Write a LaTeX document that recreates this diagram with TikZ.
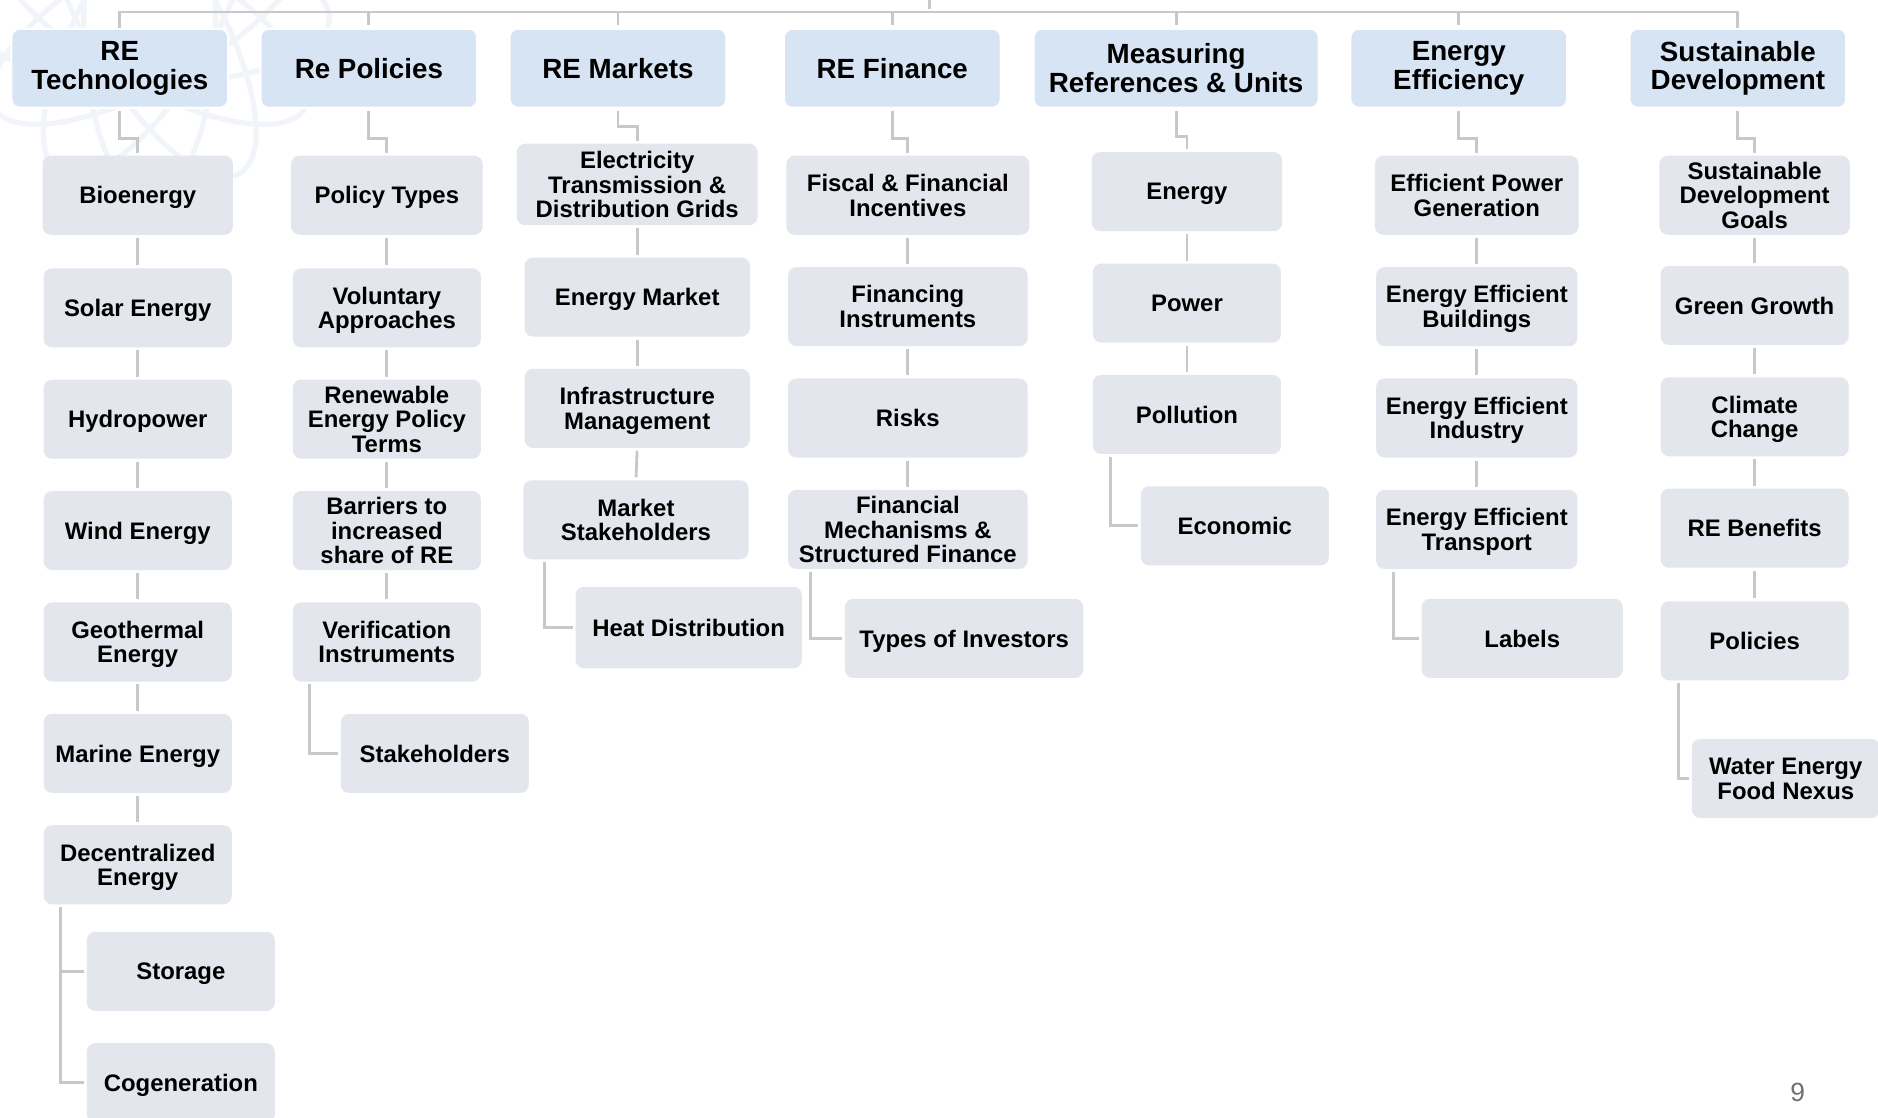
\documentclass[tikz,border=0pt]{standalone}
\usepackage{fontspec}
\setmainfont{Liberation Sans}
\usetikzlibrary{positioning, calc}

\newcommand{\px}{0.023954cm}
\definecolor{hdrblue}{HTML}{D6E4F3}
\definecolor{kidgray}{HTML}{E4E6EE}
\definecolor{linegray}{HTML}{C8C8C8}
\definecolor{numgray}{HTML}{707070}
\definecolor{wmblue}{HTML}{F1F5FA}

\tikzset{
    hdr/.style={rectangle, rounded corners=7*\px, fill=hdrblue, draw=white, line width=1.2pt,
        align=center, inner sep=0pt, minimum width=181*\px, minimum height=66*\px,
        font=\bfseries\fontsize{15.8}{16.3}\selectfont},
    kid/.style={rectangle, rounded corners=7*\px, fill=kidgray, align=center,
        inner sep=0pt, minimum width=157*\px, minimum height=66*\px, text depth=0pt,
        font=\bfseries\fontsize{13.6}{14}\selectfont},
    link/.style={draw=linegray, line width=1.6pt, shorten >=1.5pt, shorten <=1.5pt},
    wmark/.style={draw=wmblue, line width=3pt},
}

\begin{document}
\begin{tikzpicture}[x=\px, y=-\px]
    \fill[white] (0,0) rectangle (1568,933);
    \useasboundingbox (0,0) rectangle (1568,933);

    % faint watermark
    \coordinate (wm) at (125,15);
    \foreach \ang in {0,30,...,150}
        \draw[wmark, rotate around={\ang:(wm)}] (wm) ellipse (150 and 55);

    % headers
    \node[hdr] (h1) at (100,57) {RE\\Technologies};
    \node[hdr] (h2) at (308,57) {Re Policies};
    \node[hdr] (h3) at (516,57) {RE Markets};
    \node[hdr] (h4) at (745,57) {RE Finance};
    \node[hdr, minimum width=238*\px] (h5) at (982,57) {Measuring\\References \& Units};
    \node[hdr] (h6) at (1218,57) {Energy\\Efficiency};
    \node[hdr] (h7) at (1451,57) {Sustainable\\Development};

    % RE technologies
    \node[kid, minimum width=159*\px] (t1) at (115,163) {Bioenergy};
    \node[kid] (t2) at (115,257) {Solar Energy};
    \node[kid] (t3) at (115,350) {Hydropower};
    \node[kid] (t4) at (115,443) {Wind Energy};
    \node[kid] (t5) at (115,536) {Geothermal\\Energy};
    \node[kid] (t6) at (115,629) {Marine Energy};
    \node[kid] (t7) at (115,722) {Decentralized\\Energy};
    \node[kid] (t8) at (151,811) {Storage};
    \node[kid] (t9) at (151,904) {Cogeneration};

    % policies
    \node[kid, minimum width=160*\px] (p1) at (323,163) {Policy Types};
    \node[kid] (p2) at (323,257) {Voluntary\\Approaches};
    \node[kid] (p3) at (323,350) {Renewable\\Energy Policy\\Terms};
    \node[kid] (p4) at (323,443) {Barriers to\\increased\\share of RE};
    \node[kid] (p5) at (323,536) {Verification\\Instruments};
    \node[kid] (p6) at (363,629) {Stakeholders};

    % markets
    \node[kid, minimum width=201*\px, minimum height=68*\px] (m1) at (532,154) {Electricity\\Transmission \&\\Distribution Grids};
    \node[kid, minimum width=188*\px] (m2) at (532,248) {Energy Market};
    \node[kid, minimum width=188*\px] (m3) at (532,341) {Infrastructure\\Management};
    \node[kid, minimum width=188*\px] (m4) at (531,434) {Market\\Stakeholders};
    \node[kid, minimum width=189*\px, minimum height=68*\px] (m5) at (575,524) {Heat Distribution};

    % finance
    \node[kid, minimum width=203*\px] (f1) at (758,163) {Fiscal \& Financial\\Incentives};
    \node[kid, minimum width=200*\px] (f2) at (758,256) {Financing\\Instruments};
    \node[kid, minimum width=200*\px] (f3) at (758,349) {Risks};
    \node[kid, minimum width=200*\px] (f4) at (758,442) {Financial\\Mechanisms \&\\Structured Finance};
    \node[kid, minimum width=199*\px] (f5) at (805,533) {Types of Investors};

    % measuring
    \node[kid, minimum width=159*\px] (e1) at (991,160) {Energy};
    \node[kid] (e2) at (991,253) {Power};
    \node[kid] (e3) at (991,346) {Pollution};
    \node[kid] (e4) at (1031,439) {Economic};

    % efficiency
    \node[kid, minimum width=170*\px] (ee1) at (1233,163) {Efficient Power\\Generation};
    \node[kid, minimum width=168*\px] (ee2) at (1233,256) {Energy Efficient\\Buildings};
    \node[kid, minimum width=168*\px] (ee3) at (1233,349) {Energy Efficient\\Industry};
    \node[kid, minimum width=168*\px] (ee4) at (1233,442) {Energy Efficient\\Transport};
    \node[kid, minimum width=168*\px] (ee5) at (1271,533) {Labels};

    % sustainable development
    \node[kid, minimum width=159*\px] (s1) at (1465,163) {Sustainable\\Development\\Goals};
    \node[kid] (s2) at (1465,255) {Green Growth};
    \node[kid] (s3) at (1465,348) {Climate\\Change};
    \node[kid] (s4) at (1465,441) {RE Benefits};
    \node[kid] (s5) at (1465,535) {Policies};
    \node[kid] (s6) at (1491,650) {Water Energy\\Food Nexus};

    \node[font=\fontsize{15}{18}\selectfont, text=numgray] (pg) at (1501,912) {9};

    % top bar
    \coordinate (root) at (776,0);
    \coordinate (bar) at (0,10);
    \draw[link, shorten <=0pt, shorten >=0pt] (h1.north) |- (root |- bar) -| (h7.north);
    \draw[link, shorten <=0pt] (root) -- (root |- bar);
    \foreach \h in {h2,h3,h4,h5,h6}
        \draw[link, shorten <=0pt] (\h.north |- bar) -- (\h.north);

    % header to first child
    \draw[link] (h1.south) -- ++(0,25) -| (t1.north);
    \draw[link] (h2.south) -- ++(0,25) -| (p1.north);
    \draw[link] (h3.south) -- ++(0,15) -| (m1.north);
    \draw[link] (h4.south) -- ++(0,25) -| (f1.north);
    \draw[link] (h5.south) -- ++(0,23) -| (e1.north);
    \draw[link] (h6.south) -- ++(0,25) -| (ee1.north);
    \draw[link] (h7.south) -- ++(0,25) -| (s1.north);

    % siblings
    \foreach \a/\b in {t1/t2,t2/t3,t3/t4,t4/t5,t5/t6,t6/t7,
                       p1/p2,p2/p3,p3/p4,p4/p5,
                       m1/m2,m2/m3,m3/m4,
                       f1/f2,f2/f3,f3/f4,
                       e1/e2,e2/e3,
                       ee1/ee2,ee2/ee3,ee3/ee4,
                       s1/s2,s2/s3,s3/s4,s4/s5}
        \draw[link] (\a.south) -- (\b.north);

    % side branches
    \draw[link] ($(t7.south west)+(14,0)$) |- (t8.west);
    \draw[link] ($(t7.south west)+(14,0)$) |- (t9.west);
    \draw[link] ($(p5.south west)+(14,0)$) |- (p6.west);
    \draw[link] ($(m4.south west)+(18,0)$) |- (m5.west);
    \draw[link] ($(f4.south west)+(19,0)$) |- (f5.west);
    \draw[link] ($(e3.south west)+(15,0)$) |- (e4.west);
    \draw[link] ($(ee4.south west)+(15,0)$) |- (ee5.west);
    \draw[link] ($(s5.south west)+(15,0)$) |- (s6.west);
\end{tikzpicture}
\end{document}
